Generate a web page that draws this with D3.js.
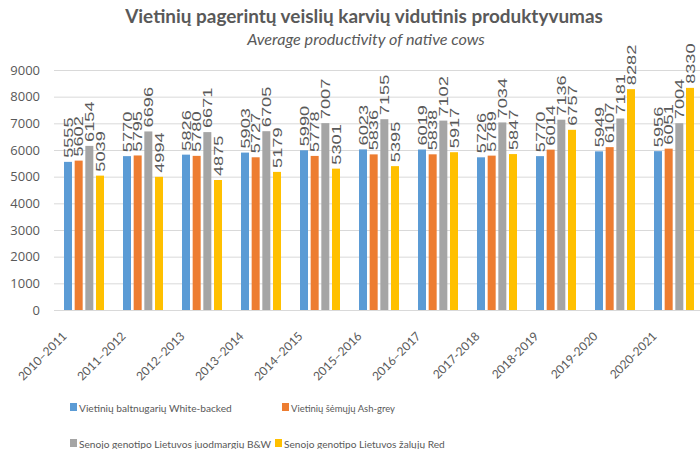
<!DOCTYPE html>
<html>
<head>
<meta charset="utf-8">
<script src="https://cdn.jsdelivr.net/npm/d3@7"></script>
<style>
body { margin: 0; background: #fff; }
text { fill: #595959; font-family: Lato, sans-serif; }
</style>
</head>
<body>
<script>
var years = ["2010–2011", "2011–2012", "2012–2013", "2013–2014", "2014–2015", "2015–2016",
	"2016–2017", "2017-2018", "2018-2019", "2019-2020", "2020-2021"];

var whiteBacked = [5555, 5770, 5826, 5903, 5990, 6023, 6019, 5726, 5770, 5949, 5956];
var ashGrey = [5602, 5795, 5780, 5727, 5778, 5836, 5838, 5789, 6014, 6107, 6051];
var blackWhite = [6154, 6696, 6671, 6705, 7007, 7155, 7102, 7034, 7136, 7181, 7004];
var red = [5039, 4994, 4875, 5179, 5301, 5395, 5917, 5847, 6757, 8282, 8330];

var seriesNames = ["Vietinių baltnugarių White-backed", "Vietinių šėmųjų Ash-grey",
	"Senojo genotipo Lietuvos juodmargių B&W", "Senojo genotipo Lietuvos žalųjų Red"];
var colors = ["#5B9BD5", "#ED7D31", "#A5A5A5", "#FFC000"];
var yTicks = [0, 1000, 2000, 3000, 4000, 5000, 6000, 7000, 8000, 9000];

var allSeries = [whiteBacked, ashGrey, blackWhite, red];

var width = 700,
	height = 449;

var svg = d3.select("body").append("svg")
	.attr("width", width)
	.attr("height", height);

var x = d3.scaleBand(years, [54, 703]);
var xs = d3.scaleBand(d3.range(4), [10, 50]).paddingInner(0.25);
var y = d3.scaleLinear([0, 9000], [310, 70]);

// shrink/grow a text so it spans the wanted width
function fitWidth(sel, w, base) {
	sel.style("font-size", base + "px");
	var len = sel.node().getComputedTextLength();
	sel.style("font-size", (base * w / len) + "px");
}

// title
svg.append("text")
	.attr("x", 364).attr("y", 23)
	.attr("text-anchor", "middle")
	.style("font-weight", "bold")
	.text("Vietinių pagerintų veislių karvių vidutinis produktyvumas")
	.call(fitWidth, 478, 16);

svg.append("text")
	.attr("x", 366).attr("y", 45)
	.attr("text-anchor", "middle")
	.style("font-style", "italic")
	.text("Average productivity of native cows")
	.call(fitWidth, 238, 14);

// grid + y axis
var yAxis = svg.append("g")
	.attr("transform", "translate(54,0)")
	.call(d3.axisLeft(y).tickValues(yTicks).tickSize(-(width - 54)).tickPadding(14).tickFormat(d3.format("d")));
yAxis.select(".domain").remove();
yAxis.selectAll("line").attr("stroke", "#D9D9D9");
yAxis.selectAll("text").style("font-size", "13px").style("fill", "#595959").style("font-family", "'Open Sans', sans-serif");

// bars
var groups = svg.selectAll("g.year")
	.data(years)
	.enter().append("g")
	.attr("class", "year")
	.attr("transform", function(d) { return "translate(" + x(d) + ",0)"; });

groups.each(function(yr, i) {
	var g = d3.select(this);
	allSeries.forEach(function(s, k) {
		g.append("rect")
			.attr("x", xs(k))
			.attr("width", xs.bandwidth())
			.attr("y", y(s[i]))
			.attr("height", y(0) - y(s[i]))
			.attr("fill", colors[k]);
		g.append("text")
			.attr("transform", "translate(" + (xs(k) + xs.bandwidth() / 2 + 4.5) + "," + (y(s[i]) - 4) + ") rotate(-90) scale(1.4,1)")
			.style("font-size", "13px")
			.style("font-family", "'Liberation Sans', Arial, sans-serif")
			.text(s[i]);
	});
});

// x axis labels along 45 degree paths
var defs = svg.append("defs");
defs.selectAll("path")
	.data(years)
	.enter().append("path")
	.attr("id", function(d, i) { return "xl" + i; })
	.attr("d", function(d) {
		var ex = x(d) + x.bandwidth() / 2 - 16, ey = 337;
		return "M" + (ex - 60) + "," + (ey + 60) + "L" + ex + "," + ey;
	});

svg.selectAll("text.xlab")
	.data(years)
	.enter().append("text")
	.attr("class", "xlab")
	.style("font-size", "12px")
	.append("textPath")
	.attr("href", function(d, i) { return "#xl" + i; })
	.attr("startOffset", "100%")
	.attr("text-anchor", "end")
	.text(function(d) { return d; });

// legend
var legendPos = [[70, 407], [282, 407], [70, 443], [275, 443]];
var legendW = [153, 104, 192, 161];
var legend = svg.selectAll("g.legend")
	.data(seriesNames)
	.enter().append("g")
	.attr("class", "legend")
	.attr("transform", function(d, i) { return "translate(" + legendPos[i][0] + "," + legendPos[i][1] + ")"; });
legend.append("rect")
	.attr("x", 0).attr("y", -4)
	.attr("width", 7).attr("height", 8)
	.attr("fill", function(d, i) { return colors[i]; });
legend.append("text")
	.attr("x", 9).attr("y", 4.5)
	.text(function(d) { return d; })
	.each(function(d, i) { fitWidth(d3.select(this), legendW[i], 13); });
</script>
</body>
</html>
